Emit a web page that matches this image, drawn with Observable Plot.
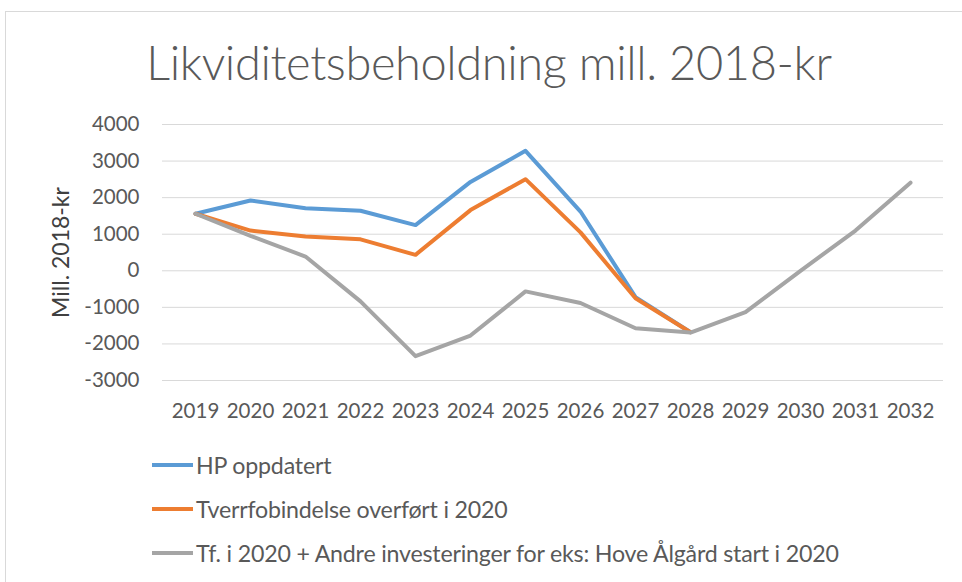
<!DOCTYPE html>
<html>
<head>
<meta charset="utf-8">
<script src="https://cdn.jsdelivr.net/npm/d3@7"></script>
<script src="https://cdn.jsdelivr.net/npm/@observablehq/plot@0.6"></script>
<style>
  html, body { margin: 0; padding: 0; background: #fff; }
  body { width: 962px; height: 582px; position: relative; overflow: hidden; font-family: Lato, "Open Sans", sans-serif; }
  #frame { position: absolute; left: 5px; top: 11px; width: 1000px; height: 1000px; border-top: 1px solid #d9d9d9; border-left: 1px solid #d9d9d9; }
  #title { position: absolute; left: 0; width: 978px; top: 34px; text-align: center; font-size: 47px; font-weight: 300; color: #595959; letter-spacing: -0.4px; }
  #chart { position: absolute; left: 0; top: 100px; }
  #legend { position: absolute; left: 152px; top: 443px; }
  .item { display: flex; align-items: center; height: 44px; }
  .sw { width: 41px; height: 4px; margin-right: 3px; }
  .lab { font-size: 23.2px; color: #595959; letter-spacing: -0.2px; }
</style>
</head>
<body>
<div id="frame"></div>
<div id="title">Likviditetsbeholdning mill. 2018-kr</div>
<div id="chart"></div>
<div id="legend"></div>
<script>
const years = ["2019","2020","2021","2022","2023","2024","2025","2026","2027","2028","2029","2030","2031","2032"];
const seriesNames = ["HP oppdatert", "Tverrfobindelse overført i 2020", "Tf. i 2020 + Andre investeringer for eks: Hove Ålgård start i 2020"];
const seriesColors = ["#5B9BD5", "#ED7D31", "#A5A5A5"];
const hpOppdatert = [1560, 1920, 1710, 1640, 1250, 2430, 3280, 1620, -720, -1680];
const tverrforbindelse = [1560, 1100, 935, 860, 436, 1660, 2505, 1050, -750, -1680];
const andreInvesteringer = [1560, 954, 390, -836, -2335, -1770, -564, -880, -1570, -1690, -1130, 0, 1100, 2410];
const yTicks = [-3000, -2000, -1000, 0, 1000, 2000, 3000, 4000];
const yLabel = "Mill. 2018-kr";

const allSeries = [hpOppdatert, tverrforbindelse, andreInvesteringer];
const data = [];
allSeries.forEach((vals, s) => vals.forEach((v, i) => data.push({series: seriesNames[s], year: years[i], value: v})));

const chart = Plot.plot({
  width: 962,
  height: 340,
  marginTop: 24,
  marginBottom: 60,
  marginLeft: 162,
  marginRight: 19,
  style: {fontFamily: "Lato, 'Open Sans', sans-serif", color: "#595959", background: "transparent"},
  x: {type: "point", domain: years, padding: 0.5},
  y: {domain: [-3000, 4000]},
  color: {domain: seriesNames, range: seriesColors},
  marks: [
    Plot.ruleY(yTicks, {stroke: "#d9d9d9", strokeWidth: 1}),
    Plot.axisY({ticks: yTicks, tickSize: 0, tickPadding: 23, tickFormat: d => String(d), fontSize: 20.5, label: null, fill: "#595959"}),
    Plot.axisX({tickSize: 0, tickPadding: 23, fontSize: 20.5, label: null, fill: "#595959"}),
    Plot.text([yLabel], {frameAnchor: "left", textAnchor: "middle", rotate: -90, dx: -101, fontSize: 23, fill: "#404040"}),
    Plot.line(data, {x: "year", y: "value", z: "series", stroke: "series", strokeWidth: 4, strokeLinejoin: "round", strokeLinecap: "round"})
  ]
});
document.getElementById("chart").appendChild(chart);

const legend = document.getElementById("legend");
seriesNames.forEach((name, i) => {
  const item = document.createElement("div");
  item.className = "item";
  const sw = document.createElement("div");
  sw.className = "sw";
  sw.style.background = seriesColors[i];
  const lab = document.createElement("span");
  lab.className = "lab";
  lab.textContent = name;
  item.appendChild(sw);
  item.appendChild(lab);
  legend.appendChild(item);
});
</script>
</body>
</html>
